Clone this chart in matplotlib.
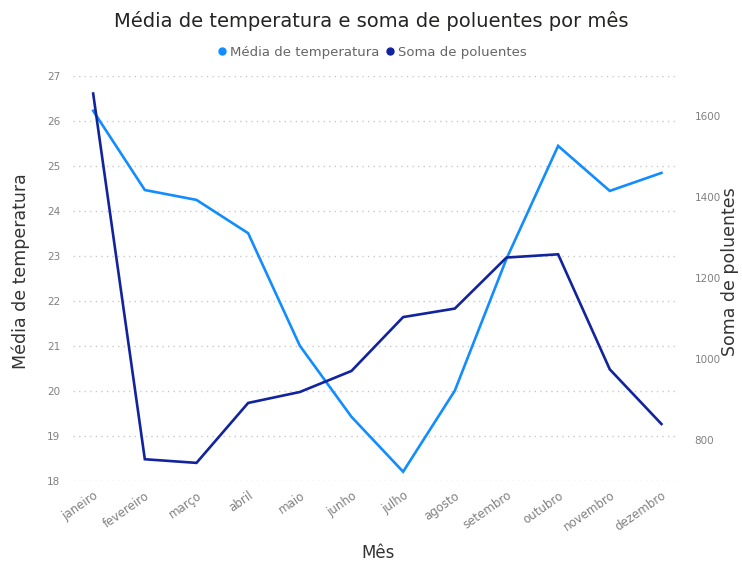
import matplotlib
matplotlib.use("Agg")
import matplotlib.pyplot as plt
from matplotlib.lines import Line2D

# Dados
meses = ["janeiro", "fevereiro", "março", "abril", "maio", "junho",
         "julho", "agosto", "setembro", "outubro", "novembro", "dezembro"]
temperatura = [26.22, 24.46, 24.24, 23.50, 21.00, 19.42,
               18.20, 20.00, 22.93, 25.44, 24.44, 24.84]
poluentes = [1656, 753, 744, 892, 919, 971,
             1104, 1125, 1251, 1259, 975, 840]

cor_temp = "#118DFF"
cor_pol = "#12239E"
cinza = "#808080"

plt.rcParams['font.family'] = ['DejaVu Sans']

fig = plt.figure(figsize=(7.42, 5.65), dpi=100)
ax1 = fig.add_axes([0.0984, 0.1492, 0.8153, 0.7168])
ax2 = ax1.twinx()

x = list(range(len(meses)))
ax1.plot(x, temperatura, color=cor_temp, lw=1.9, solid_joinstyle="miter")
ax2.plot(x, poluentes, color=cor_pol, lw=1.9, solid_joinstyle="miter")

ax1.set_xlim(-0.39, 11.32)
ax1.set_ylim(18, 27)
ax2.set_ylim(700, 1700)
ax1.set_yticks(range(18, 28))
ax2.set_yticks([800, 1000, 1200, 1400, 1600])

ax1.grid(axis="y", linestyle=(0, (1, 3)), color="#c8c8c8", lw=1)
ax1.set_axisbelow(True)

for a in (ax1, ax2):
    for s in a.spines.values():
        s.set_visible(False)
    a.tick_params(length=0, labelsize=7.5, labelcolor=cinza)

ax1.tick_params(axis="y", pad=9)
ax2.tick_params(axis="y", pad=12)
ax1.set_xticks(x)
ax1.set_xticklabels(meses, rotation=35, ha="right", rotation_mode="anchor",
                    fontsize=8.5, color=cinza)
ax1.tick_params(axis="x", pad=6)

# rótulos dos eixos
fig.text(0.5094, 0.021, "Mês", ha="center", va="center",
         fontsize=12, color="#333333")
fig.text(0.028, 0.52, "Média de temperatura", ha="center", va="center",
         rotation=90, fontsize=12.5, color="#333333")
fig.text(0.984, 0.52, "Soma de poluentes", ha="center", va="center",
         rotation=90, fontsize=12.5, color="#333333")

fig.text(0.5, 0.962, "Média de temperatura e soma de poluentes por mês",
         ha="center", va="center", fontsize=14, color="#252423")

handles = [Line2D([], [], marker="o", ls="none", color=cor_temp, markersize=5),
           Line2D([], [], marker="o", ls="none", color=cor_pol, markersize=5)]
fig.legend(handles, ["Média de temperatura", "Soma de poluentes"],
           loc="center", bbox_to_anchor=(0.5, 0.907), ncol=2, frameon=False,
           fontsize=9.5, labelcolor="#666666", handletextpad=0.1,
           columnspacing=0.3, handlelength=1)

fig.savefig("out.png", dpi=100)
